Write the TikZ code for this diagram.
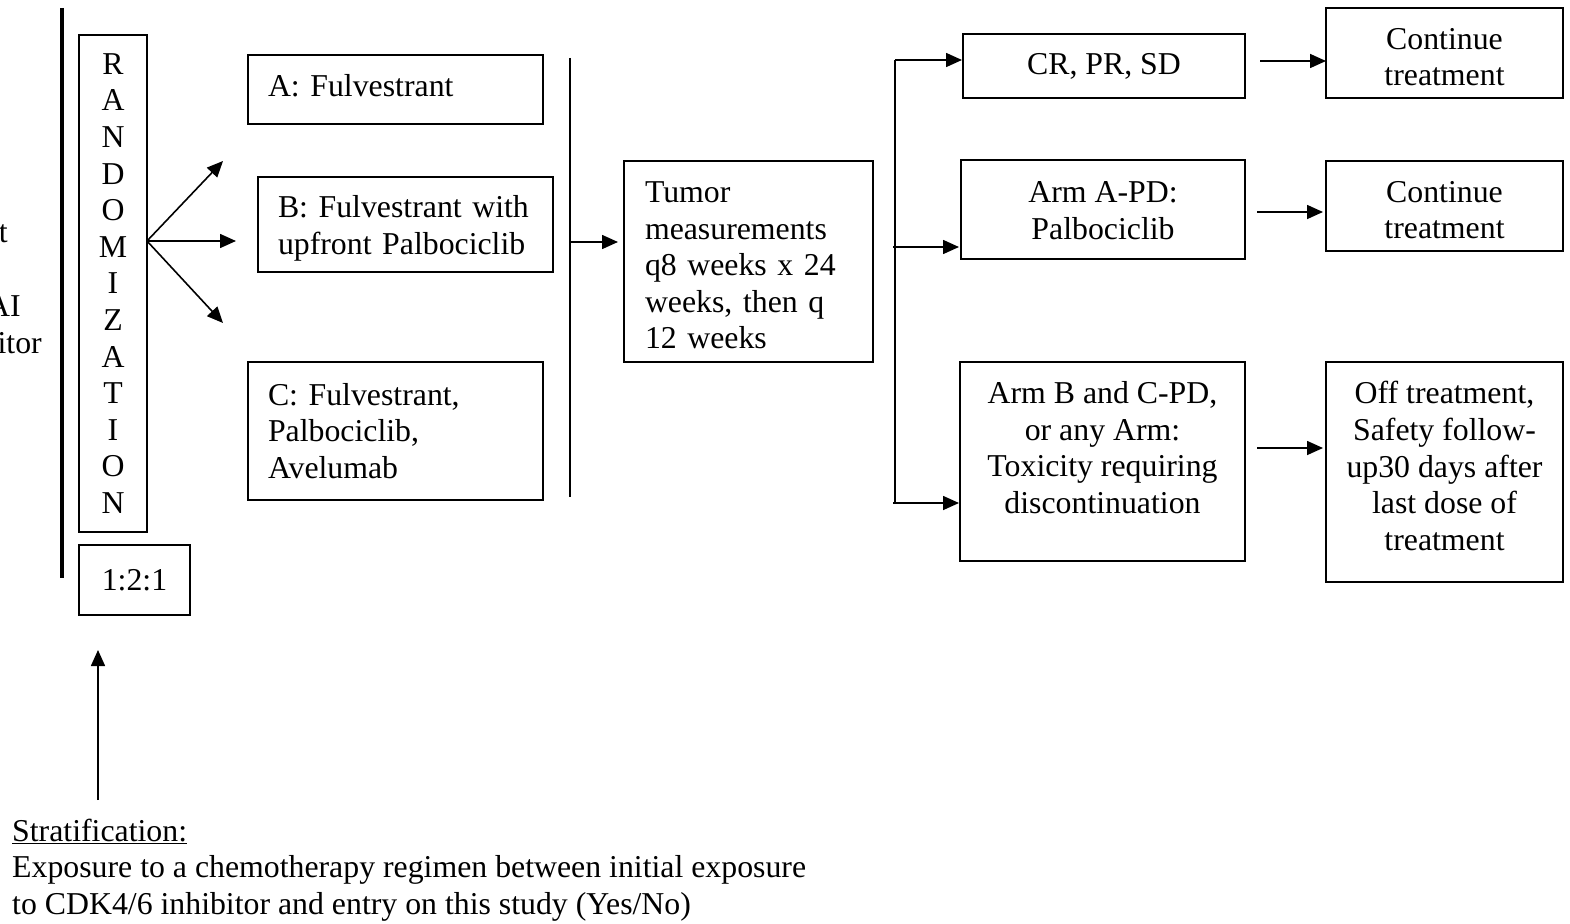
\documentclass[tikz,border=0pt]{standalone}
\usepackage{fontspec}
\setmainfont{Liberation Serif}
\usetikzlibrary{arrows.meta}
\begin{document}
\begin{tikzpicture}[x=1pt,y=-1pt,
  txt/.style={font=\fontsize{31.8}{36.6}\selectfont},
  bx/.style={draw,line width=1.6pt,inner sep=0pt},
  lt/.style={txt,align=left,inner sep=0pt,text width=255pt},
  ct/.style={txt,align=center,inner sep=0pt},
  cbox/.style={txt,draw,line width=1.6pt,align=center,inner sep=0pt},
  plain/.style={txt,inner sep=0pt},
  ln/.style={line width=1.6pt},
  arr/.style={line width=1.6pt,-{Triangle[length=16pt,width=14pt]}}]
\useasboundingbox (0,0) rectangle (1570,923);

% cut-off text at left edge
\node[plain,anchor=base east] (cut1) at (8,242) {t};
\node[plain,anchor=base east] (cut2) at (21,316) {AI};
\node[plain,anchor=base east] (cut3) at (42,353) {itor};

% thick divider
\coordinate (thtop) at (62,8);
\coordinate (thbot) at (62,578);
\draw[line width=4.5pt] (thtop) -- (thbot);

% randomization
\node[cbox,minimum width=68pt,minimum height=497pt] (rand) at (113,283.5)
  {R\\A\\N\\D\\O\\M\\I\\Z\\A\\T\\I\\O\\N};
\node[cbox,minimum width=111pt,minimum height=70pt] (ratio) at (134.5,580) {1:2:1};

% stratification
\coordinate (stbot) at (98,800);
\coordinate (sttop) at (98,650);
\draw[arr] (stbot) -- (sttop);
\node[plain,anchor=base west] (st1) at (12,841) {\underline{Stratification:}};
\node[plain,anchor=base west] (st2) at (12,877) {Exposure to a chemotherapy regimen between initial exposure};
\node[plain,anchor=base west] (st3) at (12,914) {to CDK4/6 inhibitor and entry on this study (Yes/No)};

% arms
\node[bx,minimum width=295pt,minimum height=69pt,
  label={[lt,yshift=4pt]center:{A: Fulvestrant}}] (armAbox) at (395.5,89.5) {};
\node[bx,minimum width=295pt,minimum height=95pt,
  label={[lt,yshift=-4pt]center:{B: Fulvestrant with\\upfront Palbociclib}}] (armBbox) at (405.5,224.5) {};
\node[bx,minimum width=295pt,minimum height=138pt,
  label={[lt]center:{C: Fulvestrant,\\Palbociclib,\\Avelumab}}] (armCbox) at (395.5,431) {};

\coordinate (fork) at (147,241);
\coordinate (fkA) at (223,161);
\coordinate (fkB) at (236,241);
\coordinate (fkC) at (223,323);
\draw[arr] (fork) -- (fkA);
\draw[arr] (fork) -- (fkB);
\draw[arr] (fork) -- (fkC);

% collector line
\coordinate (coltop) at (570,58);
\coordinate (colbot) at (570,497);
\draw[ln] (coltop) -- (colbot);
\coordinate (colmid) at (570,242);
\coordinate (tumin) at (618,242);
\draw[arr] (colmid) -- (tumin);

% tumor measurements
\node[bx,minimum width=249pt,minimum height=201pt,
  label={[lt,text width=207pt,xshift=0pt,yshift=-4pt]center:{Tumor\\measurements\\q8 weeks x 24\\weeks, then q\\12 weeks}}]
  (tumor) at (748.5,261.5) {};

% branch
\coordinate (brtop) at (895,60);
\coordinate (brbot) at (895,503);
\draw[ln] (brtop) -- (brbot);
\coordinate (brm) at (893,247);
\coordinate (brb) at (893,503);
\coordinate (inCR) at (962,60);
\coordinate (inA) at (959,247);
\coordinate (inB) at (959,503);
\draw[arr] (brtop) -- (inCR);
\draw[arr] (brm) -- (inA);
\draw[arr] (brb) -- (inB);

% outcomes
\node[cbox,minimum width=282pt,minimum height=64pt] (cr) at (1104,66) {CR, PR, SD};
\node[bx,minimum width=284pt,minimum height=99pt,
  label={[ct,yshift=-1pt]center:{Arm A-PD:\\Palbociclib}}] (apd) at (1103,209.5) {};
\node[bx,minimum width=285pt,minimum height=199pt,
  label={[ct,yshift=14pt]center:{Arm B and C-PD,\\or any Arm:\\Toxicity requiring\\discontinuation}}] (bpd) at (1102.5,461.5) {};

\node[bx,minimum width=237pt,minimum height=90pt,
  label={[ct,yshift=-4pt]center:{Continue\\treatment}}] (cont1) at (1444.5,53) {};
\node[bx,minimum width=237pt,minimum height=90pt,
  label={[ct,yshift=-4pt]center:{Continue\\treatment}}] (cont2) at (1444.5,206) {};
\node[bx,minimum width=237pt,minimum height=220pt,
  label={[ct,yshift=6pt]center:{Off treatment,\\Safety follow-\\up30 days after\\last dose of\\treatment}}] (off) at (1444.5,472) {};

\coordinate (o1s) at (1260,61);
\coordinate (o1e) at (1326,61);
\coordinate (o2s) at (1257,212);
\coordinate (o2e) at (1323,212);
\coordinate (o3s) at (1257,448);
\coordinate (o3e) at (1323,448);
\draw[arr] (o1s) -- (o1e);
\draw[arr] (o2s) -- (o2e);
\draw[arr] (o3s) -- (o3e);
\end{tikzpicture}
\end{document}
